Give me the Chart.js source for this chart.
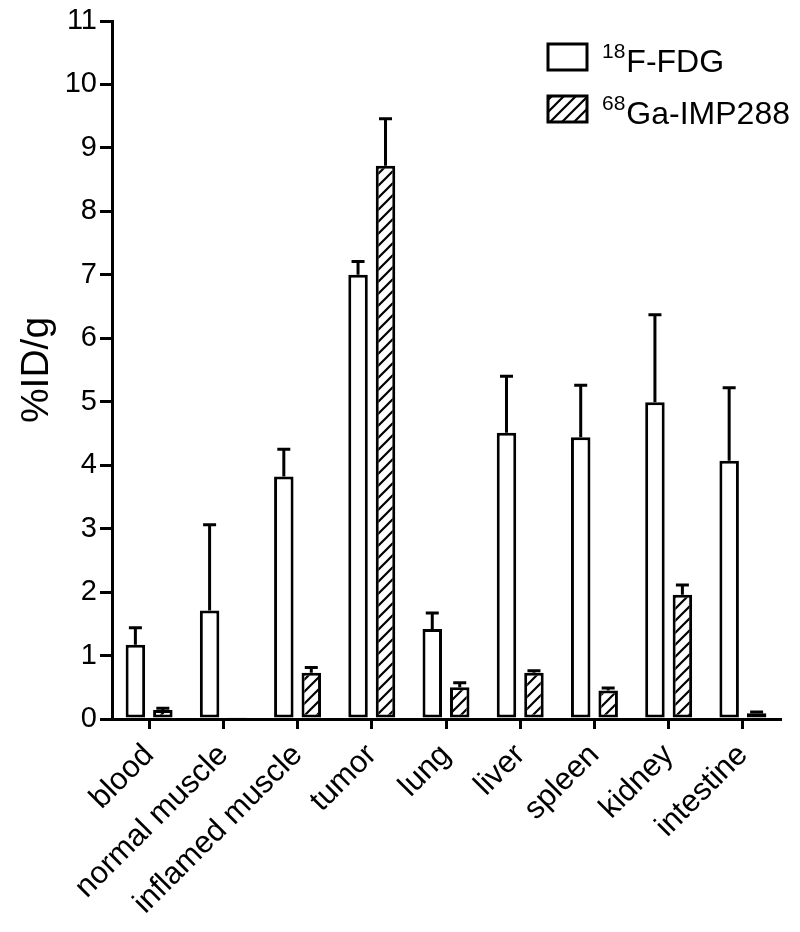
<!DOCTYPE html>
<html>
<head>
<meta charset="utf-8">
<script src="https://cdn.jsdelivr.net/npm/chart.js@4.4.0/dist/chart.umd.min.js"></script>
<style>
  html, body { margin: 0; padding: 0; background: #fff; }
  #wrap { width: 800px; height: 932px; }
</style>
</head>
<body>
<div id="wrap"><canvas id="myChart"></canvas></div>
<script>
/*------------------------------data------------------------------------*/
const organs = ["blood", "normal muscle", "inflamed muscle", "tumor", "lung", "liver", "spleen", "kidney", "intestine"];
const fdgMean = [1.17, 1.71, 3.82, 7.00, 1.42, 4.51, 4.44, 4.99, 4.07];
const fdgSd   = [0.27, 1.35, 0.43, 0.21, 0.25, 0.89, 0.82, 1.38, 1.15];
const impMean = [0.14, 0.02, 0.73, 8.72, 0.50, 0.73, 0.45, 1.96, 0.09];
const impSd   = [0.03, 0.00, 0.08, 0.74, 0.07, 0.03, 0.04, 0.15, 0.02];
const seriesSup  = ["18", "68"];
const seriesName = ["F-FDG", "Ga-IMP288"];
const yMin = 0, yMax = 11, yStep = 1;

const FONT = '"Liberation Sans", Arial, sans-serif';

// diagonal hatch for the second series
function makeHatch() {
  const c = document.createElement('canvas');
  c.width = 12; c.height = 12;
  const g = c.getContext('2d');
  g.fillStyle = '#fff';
  g.fillRect(0, 0, 12, 12);
  g.strokeStyle = '#000';
  g.lineWidth = 2.2;
  g.beginPath();
  g.moveTo(-6, 6); g.lineTo(6, -6);
  g.moveTo(0, 12); g.lineTo(12, 0);
  g.moveTo(6, 18); g.lineTo(18, 6);
  g.stroke();
  return g.createPattern(c, 'repeat');
}
const hatch = makeHatch();

// error bars (upward only, with cap)
const errorBars = {
  id: 'errorBars',
  afterDatasetsDraw(chart) {
    const ctx = chart.ctx;
    const yScale = chart.scales.y;
    ctx.save();
    ctx.strokeStyle = '#000';
    ctx.lineWidth = 3;
    chart.data.datasets.forEach((ds, i) => {
      const meta = chart.getDatasetMeta(i);
      meta.data.forEach((bar, j) => {
        const top = yScale.getPixelForValue(ds.data[j] + ds.errors[j]);
        if (bar.y - top < 1) return;
        ctx.beginPath();
        ctx.moveTo(bar.x, bar.y);
        ctx.lineTo(bar.x, top);
        ctx.moveTo(bar.x - 6.5, top);
        ctx.lineTo(bar.x + 6.5, top);
        ctx.stroke();
      });
    });
    ctx.restore();
  }
};

// legend with superscript isotope numbers
const supLegend = {
  id: 'supLegend',
  afterDraw(chart) {
    const ctx = chart.ctx;
    chart.data.datasets.forEach((ds, i) => {
      const y = 44 + i * 52;
      ctx.save();
      ctx.fillStyle = ds.backgroundColor;
      ctx.fillRect(548, y, 39, 26);
      ctx.lineWidth = 3;
      ctx.strokeStyle = '#000';
      ctx.strokeRect(548, y, 39, 26);
      ctx.fillStyle = '#000';
      ctx.textBaseline = 'alphabetic';
      ctx.font = '21px ' + FONT;
      ctx.fillText(seriesSup[i], 602, y + 14);
      const w = ctx.measureText(seriesSup[i]).width;
      ctx.font = '32px ' + FONT;
      ctx.fillText(seriesName[i], 602 + w + 1, y + 28);
      ctx.restore();
    });
  }
};

const ctx = document.getElementById('myChart').getContext('2d');
let barChart = new Chart(ctx, {
  type: 'bar',
  data: {
    labels: organs,
    datasets: [
      {
        label: seriesSup[0] + seriesName[0],
        data: fdgMean,
        errors: fdgSd,
        backgroundColor: '#fff',
        borderColor: '#000',
        borderWidth: 3,
        borderSkipped: false,
        barPercentage: 0.71,
        categoryPercentage: 0.74
      },
      {
        label: seriesSup[1] + seriesName[1],
        data: impMean,
        errors: impSd,
        backgroundColor: hatch,
        borderColor: '#000',
        borderWidth: 3,
        borderSkipped: false,
        barPercentage: 0.71,
        categoryPercentage: 0.74
      }
    ]
  },
  options: {
    responsive: true,
    maintainAspectRatio: false,
    animation: false,
    layout: { padding: { top: 21, right: 20, left: 0, bottom: 0 } },
    plugins: {
      legend: { display: false },
      tooltip: { enabled: false }
    },
    scales: {
      x: {
        offset: true,
        grid: { offset: false, drawOnChartArea: false, drawTicks: true, tickLength: 10, lineWidth: 3, color: '#000' },
        border: { display: true, color: '#000', width: 3 },
        ticks: {
          color: '#000',
          font: { family: FONT, size: 31 },
          maxRotation: 45,
          minRotation: 45,
          padding: 8,
          autoSkip: false
        },
        afterFit: s => { s.height = 213; }
      },
      y: {
        min: yMin,
        max: yMax,
        grid: { drawOnChartArea: false, drawTicks: true, tickLength: 12, lineWidth: 3, color: '#000' },
        border: { display: true, color: '#000', width: 3 },
        ticks: {
          stepSize: yStep,
          color: '#000',
          font: { family: FONT, size: 29 },
          padding: 3
        },
        title: {
          display: true,
          text: '%ID/g',
          color: '#000',
          font: { family: FONT, size: 39 },
          padding: { top: 14, bottom: 0 }
        },
        afterFit: s => { s.width = 112; }
      }
    }
  },
  plugins: [errorBars, supLegend]
});
</script>
</body>
</html>
